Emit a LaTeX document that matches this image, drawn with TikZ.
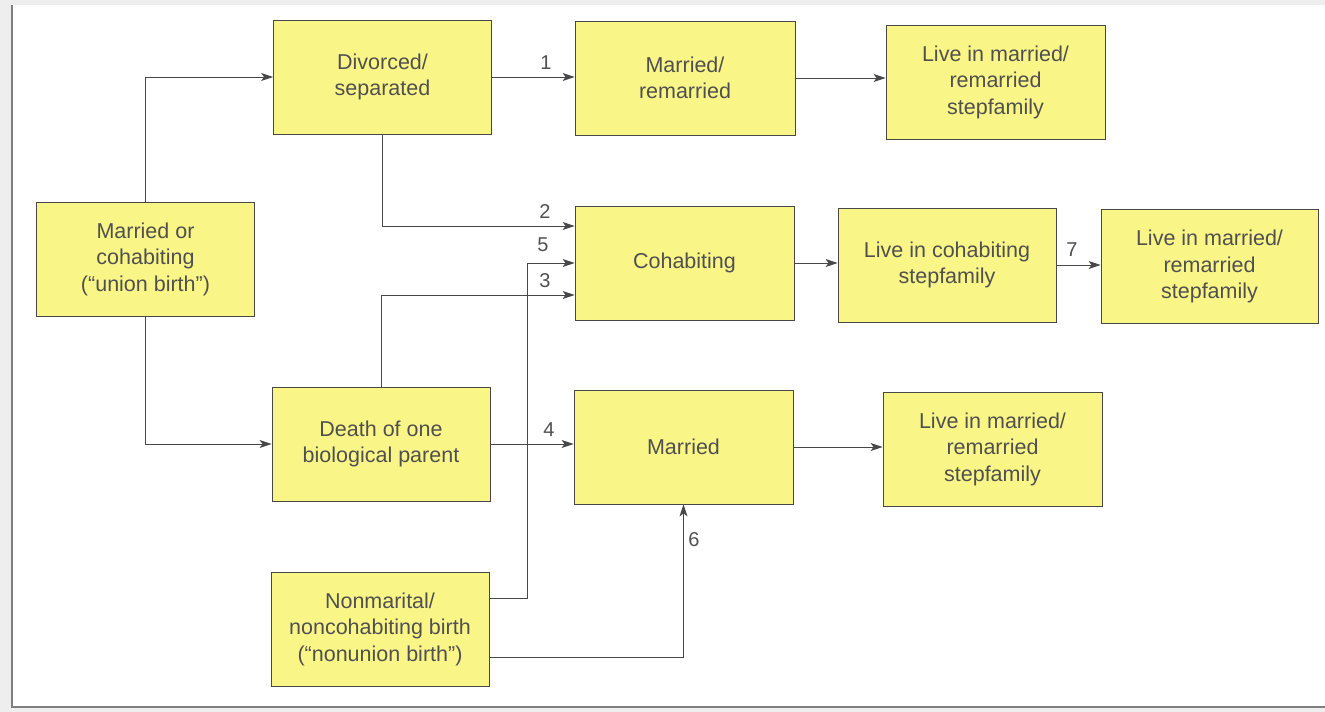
\documentclass[tikz,border=0pt]{standalone}
\usepackage{fontspec}
\setmainfont{Liberation Sans}
\usetikzlibrary{arrows.meta,calc}
\definecolor{boxfill}{RGB}{250,245,135}
\definecolor{ink}{RGB}{72,72,72}
\definecolor{txt}{RGB}{80,80,80}
\definecolor{margin}{RGB}{238,238,238}
\begin{document}
\begin{tikzpicture}[x=1pt,y=-1pt,
  box/.style={draw=ink, fill=boxfill, minimum width=218pt, minimum height=114pt,
    inner sep=0pt, align=center, text=txt, font=\fontsize{21.5}{26.5}\selectfont, line width=0.8pt},
  conn/.style={draw=ink, line width=1pt, -{Stealth[length=12pt,width=8pt,inset=3pt]}},
  lbl/.style={text=txt, inner sep=0pt, font=\fontsize{20}{22}\selectfont},
  frame/.style={draw=ink!70, line width=1.2pt}]
\useasboundingbox (0,0) rectangle (1325,712);
\fill[margin] (0,0) rectangle (1325,712);
\fill[white] (12,5) rectangle (1325,707);
\draw[frame] (12,5) -- (12,707) -- (1325,707);

\node[box] (union) at (145.5,259) {Married or\\cohabiting\\(“union birth”)};
\node[box] (div) at (382.5,77) {Divorced/\\separated};
\node[box, minimum width=220pt] (mar1) at (685,78) {Married/\\remarried};
\node[box, minimum width=219pt] (live1) at (995.5,82) {Live in married/\\remarried\\stepfamily};
\node[box, minimum width=219pt] (cohab) at (684.5,263) {Cohabiting};
\node[box] (livec) at (947,265) {Live in cohabiting\\stepfamily};
\node[box, minimum width=217pt] (live2) at (1209.5,266.5) {Live in married/\\remarried\\stepfamily};
\node[box] (death) at (381,444) {Death of one\\biological parent};
\node[box, minimum width=219pt] (mar2) at (683.5,447) {Married};
\node[box, minimum width=219pt] (live3) at (992.5,449) {Live in married/\\remarried\\stepfamily};
\node[box] (nonu) at (380,629) {Nonmarital/\\noncohabiting birth\\(“nonunion birth”)};

\coordinate (c2) at ($(cohab.west)+(0,-37)$);
\coordinate (c5) at (cohab.west);
\coordinate (c3) at ($(cohab.west)+(0,32)$);
\coordinate (n5) at ($(nonu.east)+(0,-31)$);
\coordinate (n6) at ($(nonu.east)+(0,28)$);

\draw[conn] (union.north) |- (div.west);
\draw[conn] (union.south) |- (death.west);
\draw[conn] (div.east) -- (div.east -| mar1.west);
\draw[conn] (mar1.east) -- (mar1.east -| live1.west);
\draw[conn] (div.south) |- (c2);
\draw[conn] (death.north) |- (c3);
\draw[conn] (n5) -| ($(c5)+(-47,0)$) -- (c5);
\draw[conn] (n6) -| (mar2.south);
\draw[conn] (death.east) -- (death.east -| mar2.west);
\draw[conn] (cohab.east) -- (cohab.east -| livec.west);
\draw[conn] (livec.east) -- (livec.east -| live2.west);
\draw[conn] (mar2.east) -- (mar2.east -| live3.west);

\node[lbl] (l1) at (546,63) {1};
\node[lbl] (l2) at (545,212) {2};
\node[lbl] (l5) at (543,245) {5};
\node[lbl] (l3) at (545,281) {3};
\node[lbl] (l4) at (549,430) {4};
\node[lbl] (l6) at (694,540) {6};
\node[lbl] (l7) at (1072,250) {7};
\end{tikzpicture}
\end{document}
